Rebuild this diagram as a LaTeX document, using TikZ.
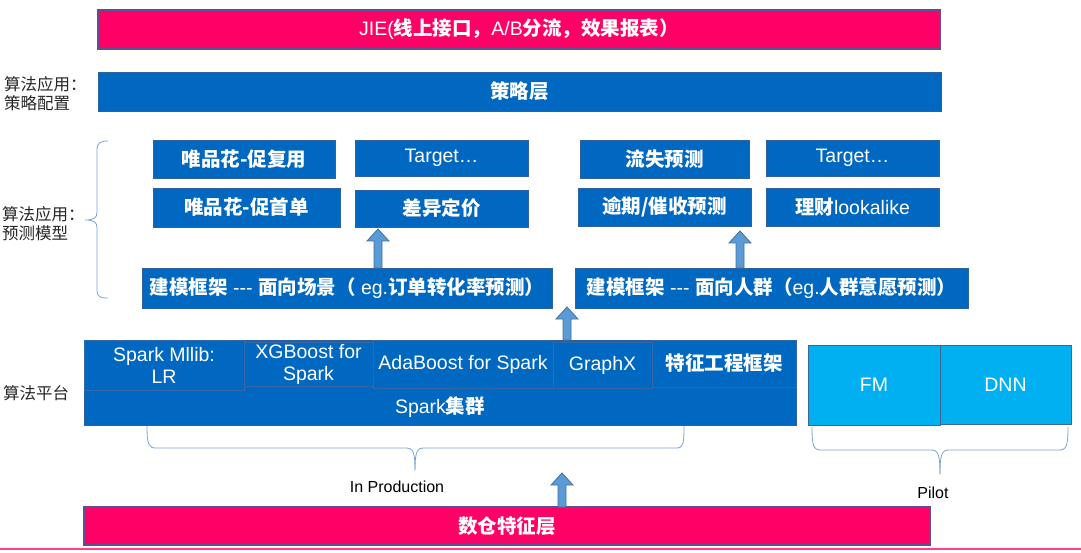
\documentclass[tikz,border=0pt]{standalone}
\usepackage{fontspec}
\setmainfont{Liberation Sans}
\newfontfamily\cjk{Noto Sans CJK SC}
\newcommand\zh[1]{{\cjk\bfseries #1}}
\newcommand\zhr[1]{{\cjk #1}}
\usetikzlibrary{calc}
\definecolor{myblue}{HTML}{0068C0}
\definecolor{myblueedge}{HTML}{2F62A0}
\definecolor{mypink}{HTML}{FF0066}
\definecolor{mypinkedge}{HTML}{5E4F93}
\definecolor{mycyan}{HTML}{00B0F0}
\definecolor{mycyanedge}{HTML}{3A6890}
\definecolor{celledge}{HTML}{3369A8}
\definecolor{arrfill}{HTML}{5B9BD5}
\definecolor{arredge}{HTML}{41719C}
\definecolor{bracecol}{HTML}{7AA3D3}
\tikzset{
  box/.style={inner sep=0pt, text=white, font=\fontsize{19.5}{23}\selectfont, align=center},
  bluebox/.style={box, fill=myblue, draw=myblueedge, line width=0.8pt},
  pinkbox/.style={box, fill=mypink, draw=mypinkedge, line width=1.2pt},
  cyanbox/.style={box, fill=mycyan, draw=mycyanedge, line width=1pt},
  cellbox/.style={box, draw=celledge, line width=0.6pt},
  lbl/.style={font=\fontsize{16.5}{19}\selectfont, align=left, text=black!85, inner sep=0pt, anchor=west},
  smalllbl/.style={font=\fontsize{16}{19}\selectfont, text=black, inner sep=0pt},
  bracepath/.style={draw=bracecol, line width=0.8pt},
  blockarr/.style={fill=arrfill, draw=arredge, line width=0.8pt},
}
\newcommand\uparrowbox[2]{\path[blockarr] let \p1=(#1), \p2=(#2) in (\x1-4pt,\y1) -- (\x1-4pt,\y2-12pt) -- (\x1-11pt,\y2-12pt) -- (\x1,\y2) -- (\x1+11pt,\y2-12pt) -- (\x1+4pt,\y2-12pt) -- (\x1+4pt,\y1) -- cycle;}
\begin{document}
\begin{tikzpicture}[x=1pt,y=-1pt]
\useasboundingbox (0,0) rectangle (1081,553);
% top layers
\node[pinkbox, minimum width=842, minimum height=39] (jie) at (519,29.5) {JIE(\zh{线上接口，}A/B\zh{分流，效果报表）}};
\node[bluebox, minimum width=843, minimum height=39] (celue) at (519.5,91.5) {\zh{策略层}};
% left labels
\node[lbl] (l1) at (4,94) {\zhr{算法应用：}\\\zhr{策略配置}};
\node[lbl] (l2) at (2,224) {\zhr{算法应用：}\\\zhr{预测模型}};
\node[lbl] (l3) at (3,393) {\zhr{算法平台}};
% left brace
\draw[bracepath] (108,141) .. controls (100,141) and (97,143) .. (97,150) -- (97,212) .. controls (97,218) and (94,220) .. (85,220) .. controls (94,220) and (97,222) .. (97,228) -- (97,290) .. controls (97,297) and (100,298) .. (108,298);
% application boxes
\node[bluebox, minimum width=182, minimum height=38] (r1a) at (244,159) {\zh{唯品花-促复用}};
\node[bluebox, minimum width=173, minimum height=36] (r1b) at (441.5,158) {Target…};
\node[bluebox, minimum width=169, minimum height=38] (r1c) at (664.5,159) {\zh{流失预测}};
\node[bluebox, minimum width=173, minimum height=36] (r1d) at (852.5,158) {Target…};
\node[bluebox, minimum width=187, minimum height=39] (r2a) at (246.5,207.5) {\zh{唯品花-促首单}};
\node[bluebox, minimum width=173, minimum height=37] (r2b) at (441.5,208.5) {\zh{差异定价}};
\node[bluebox, minimum width=173, minimum height=38] (r2c) at (664.5,207) {\zh{逾期/催收预测}};
\node[bluebox, minimum width=173, minimum height=38] (r2d) at (852.5,207) {\zh{理财}lookalike};
% modelling frameworks
\node[bluebox, minimum width=410, minimum height=40] (ml) at (347,288) {\zh{建模框架} {-}{-}{-} \zh{面向场景（} eg.\zh{订单转化率预测）}};
\node[bluebox, minimum width=393, minimum height=40] (mr) at (771.5,288) {\zh{建模框架} {-}{-}{-} \zh{面向人群（}eg.\zh{人群意愿预测）}};
% platform
\node[bluebox, minimum width=712, minimum height=85] (spark) at (440,382.5) {};
\node[box] (sparklbl) at (440,407) {Spark\zh{集群}};
\node[cellbox, minimum width=160, minimum height=50] (mllib) at (164,365) {Spark Mllib:\\[-1pt]LR};
\node[cellbox, minimum width=129, minimum height=44] (xgb) at (308.5,364) {XGBoost for\\[-1pt]Spark};
\node[cellbox, minimum width=180, minimum height=48] (ada) at (463,364) {AdaBoost for Spark};
\node[cellbox, minimum width=99, minimum height=46] (graphx) at (602.5,365) {GraphX};
\node[cellbox, minimum width=144, minimum height=47] (tz) at (724,363.5) {\zh{特征工程框架}};
\node[cyanbox, minimum width=132, minimum height=80] (fm) at (874,385) {FM};
\node[cyanbox, minimum width=131, minimum height=79] (dnn) at (1005.5,384.5) {DNN};
% braces under platform
\draw[bracepath] (147,426) .. controls (147,445) and (149,448) .. (156,448) -- (406,448) .. controls (413,448) and (415,452) .. (415,470);
\draw[bracepath] (415,470) .. controls (415,452) and (417,448) .. (424,448) -- (676,448) .. controls (683,448) and (684,445) .. (684,426);
\node[smalllbl] (inprod) at (397,487) {In Production};
\draw[bracepath] (812,427) .. controls (812,447) and (814,450) .. (821,450) -- (931,450) .. controls (938,450) and (940,454) .. (940,474);
\draw[bracepath] (940,474) .. controls (940,454) and (942,450) .. (949,450) -- (1059,450) .. controls (1066,450) and (1068,447) .. (1068,427);
\node[smalllbl] (pilot) at (933,493) {Pilot};
% data layer
\node[pinkbox, minimum width=846, minimum height=38] (shucang) at (507,526) {\zh{数仓特征层}};
\draw[draw=mypink!75!white, line width=1.5pt] (0,549) -- (1081,549);
% block arrows
\coordinate (a1s) at (378,268); \coordinate (a1e) at (378,229);
\coordinate (a2s) at (740,268); \coordinate (a2e) at (740,231);
\coordinate (a3s) at (567,340); \coordinate (a3e) at (567,307);
\coordinate (a4s) at (562,507); \coordinate (a4e) at (562,473);
\uparrowbox{a1s}{a1e}
\uparrowbox{a2s}{a2e}
\uparrowbox{a3s}{a3e}
\uparrowbox{a4s}{a4e}
\end{tikzpicture}
\end{document}
